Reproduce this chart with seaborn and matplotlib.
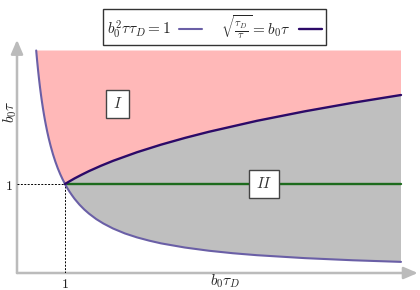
import matplotlib
matplotlib.use("Agg")
import matplotlib.pyplot as plt
import seaborn as sns
import pandas as pd
from matplotlib.lines import Line2D

# hyperbola b0^2 tau tauD = 1  ->  b0tau = 1 / (b0tauD)
hyp_x = [0.40, 0.41, 0.42, 0.44, 0.46, 0.48, 0.50, 0.52, 0.54, 0.56, 0.58, 0.60, 0.63, 0.66,
         0.70, 0.75, 0.80, 0.85, 0.90, 0.95, 1.00, 1.05, 1.10, 1.15, 1.20, 1.30, 1.40, 1.50,
         1.65, 1.80, 2.00, 2.25, 2.50, 2.75, 3.00, 3.50, 4.00, 4.50, 5.00, 6.00, 7.00, 8.00]
hyp_y = [2.500, 2.439, 2.381, 2.273, 2.174, 2.083, 2.000, 1.923, 1.852, 1.786, 1.724, 1.667,
         1.587, 1.515, 1.429, 1.333, 1.250, 1.176, 1.111, 1.053, 1.000, 0.952, 0.909, 0.870,
         0.833, 0.769, 0.714, 0.667, 0.606, 0.556, 0.500, 0.444, 0.400, 0.364, 0.333, 0.286,
         0.250, 0.222, 0.200, 0.167, 0.143, 0.125]

# sqrt(tauD/tau) = b0tau  ->  b0tau = (b0tauD)^(1/3)
cub_x = [1.00, 1.05, 1.10, 1.20, 1.35, 1.50, 1.75, 2.00, 2.50, 3.00, 3.50, 4.00, 5.00, 6.00, 7.00, 8.00]
cub_y = [1.000, 1.016, 1.032, 1.063, 1.105, 1.145, 1.205, 1.260, 1.357, 1.442, 1.518, 1.587,
         1.710, 1.817, 1.913, 2.000]

# horizontal line b0tau = 1
flat_x = [1.0, 8.0]
flat_y = [1.0, 1.0]

y_top = 2.5
x_max = 8.0
region_labels = ["$I$", "$II$"]
region_pos = [(2.1, 1.9), (5.15, 1.0)]

sns.set_theme(style="white")
plt.rcParams["font.family"] = ["DejaVu Serif"]
plt.rcParams["mathtext.fontset"] = "cm"

fig = plt.figure(figsize=(4.2, 2.9), dpi=100)
ax = fig.add_axes([17 / 420, 17 / 290, 400.8 / 420, 231.4 / 290])
ax.set_xlim(0, 8.35)
ax.set_ylim(0, 2.6)

pink = "#ffb8b8"
grey = "#bfbfbf"
c_hyp = "#6a5fa6"
c_cub = "#2c0a68"
c_flat = "#1d6b1d"

# split hyperbola at x = 1
hx_left = [x for x in hyp_x if x <= 1.0]
hy_left = [y for x, y in zip(hyp_x, hyp_y) if x <= 1.0]
hx_right = [x for x in hyp_x if x >= 1.0]
hy_right = [y for x, y in zip(hyp_x, hyp_y) if x >= 1.0]

# region I (pink): above both curves
px = hx_left + cub_x + [x_max, hyp_x[0]]
py = hy_left + cub_y + [y_top, y_top]
ax.fill(px, py, color=pink, lw=0, zorder=1)

# region II (grey): between cube-root curve and hyperbola
gx = cub_x + hx_right[::-1]
gy = cub_y + hy_right[::-1]
ax.fill(gx, gy, color=grey, lw=0, zorder=1)

df_hyp = pd.DataFrame({"x": hyp_x, "y": hyp_y})
df_cub = pd.DataFrame({"x": cub_x, "y": cub_y})
df_flat = pd.DataFrame({"x": flat_x, "y": flat_y})
sns.lineplot(data=df_flat, x="x", y="y", ax=ax, color=c_flat, lw=1.7, sort=False, zorder=3)
sns.lineplot(data=df_hyp, x="x", y="y", ax=ax, color=c_hyp, lw=1.5, sort=False, zorder=4)
sns.lineplot(data=df_cub, x="x", y="y", ax=ax, color=c_cub, lw=1.7, sort=False, zorder=4)

# dashed guides to (1, 1)
ax.plot([1, 1], [0, 1], color="black", lw=0.7, ls=(0, (2, 1.5)), zorder=2)
ax.plot([0, 1], [1, 1], color="black", lw=0.7, ls=(0, (2, 1.5)), zorder=2)

for lab, (lx, ly) in zip(region_labels, region_pos):
    ax.text(lx, ly, lab, ha="center", va="center", fontsize=11, color="#333333", zorder=6,
            bbox=dict(boxstyle="square,pad=0.45", fc="white", ec="#444444", lw=1.0))

# axes as grey arrows
for s in ax.spines.values():
    s.set_visible(False)
arrow = dict(arrowstyle="-|>,head_length=0.7,head_width=0.3", color="#bbbbbb", lw=1.8,
             shrinkA=0, shrinkB=0)
ax.annotate("", xy=(8.35, 0), xytext=(0, 0), arrowprops=arrow, annotation_clip=False, zorder=0)
ax.annotate("", xy=(0, 2.62), xytext=(0, 0), arrowprops=arrow, annotation_clip=False, zorder=0)

ax.set_xticks([1])
ax.set_yticks([1])
ax.set_xticklabels(["$1$"])
ax.set_yticklabels(["$1$"])
ax.tick_params(length=0, labelsize=10, pad=3, colors="#222222")
ax.set_xlabel("")
ax.set_ylabel("")

fig.text(225 / 420, 1 - 281 / 290, r"$b_0\tau_D$", ha="center", va="center", fontsize=11)
fig.text(10 / 420, 1 - 112 / 290, r"$b_0\tau$", ha="center", va="center", fontsize=11, rotation=90)

handles = [Line2D([], [], color=c_hyp, lw=1.5), Line2D([], [], color=c_cub, lw=1.7)]
labels = [r"$b_0^2\tau\tau_D = 1$", r"$\sqrt{\frac{\tau_D}{\tau}} = b_0\tau$"]
leg = fig.legend(handles, labels, loc="upper center", bbox_to_anchor=(0.51, 0.995), ncol=2,
                 markerfirst=False, fancybox=False, edgecolor="#333333", framealpha=1,
                 fontsize=11, handlelength=1.5, columnspacing=1.2, borderpad=0.25,
                 handletextpad=0.6)
leg.get_frame().set_linewidth(1.0)

fig.savefig("out.png", dpi=100)
